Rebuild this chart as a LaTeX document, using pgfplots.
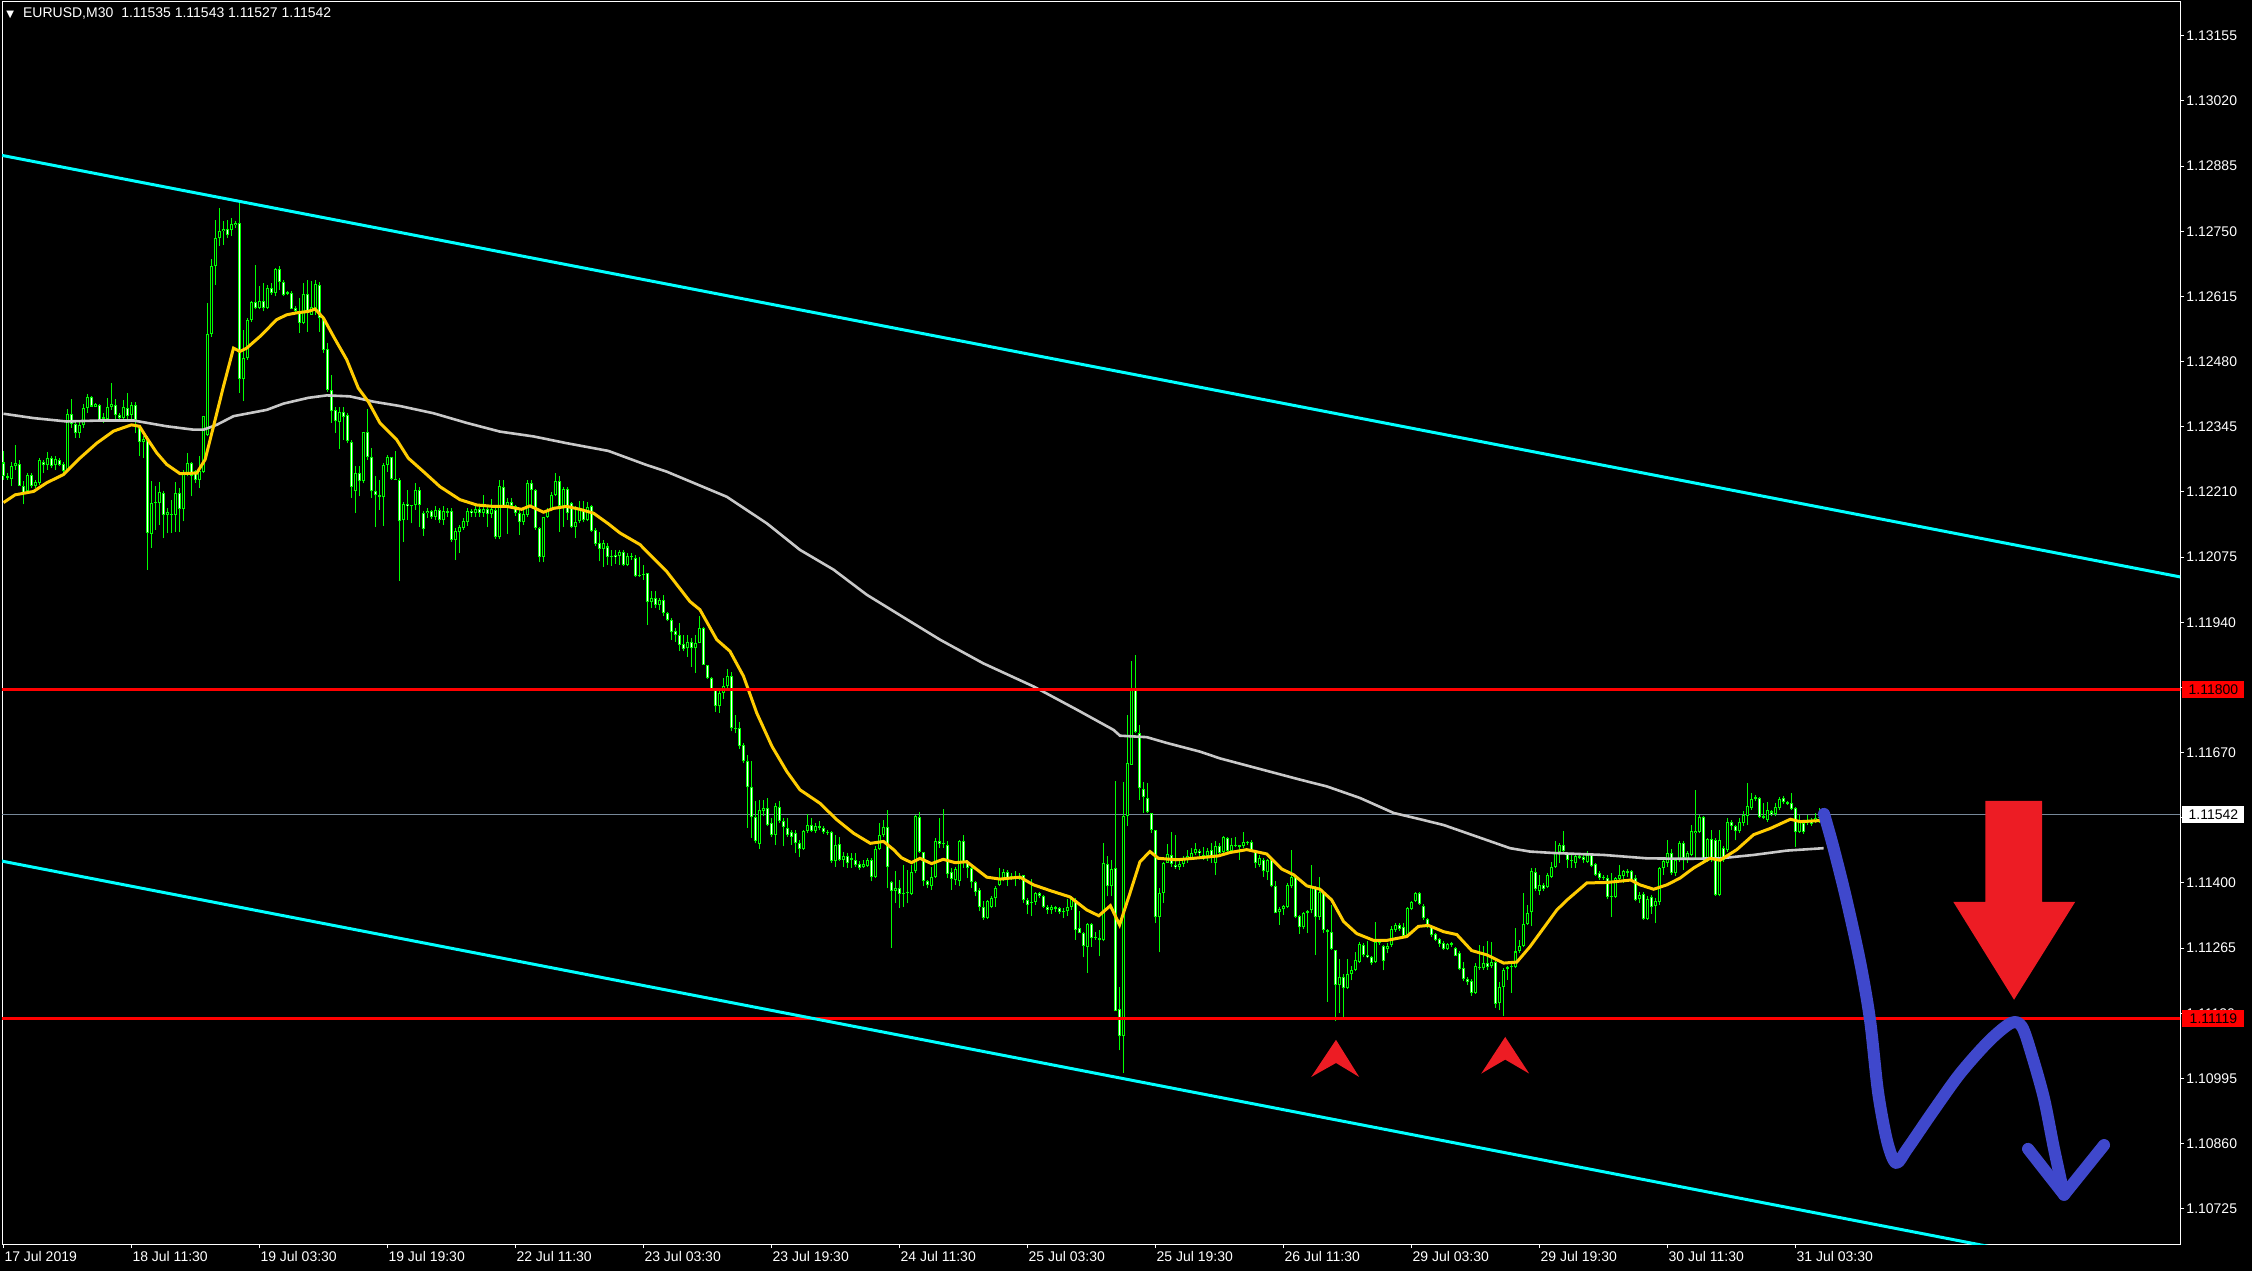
\documentclass[border=0pt]{standalone}
\usepackage{fontspec}
\setmainfont{Liberation Sans}
\newfontfamily\dejavu{DejaVu Sans}
\usepackage{pgfplots}
\pgfplotsset{compat=1.18}
\usepackage{pgfplotstable}
\definecolor{cgreen}{RGB}{0,255,0}
\definecolor{cyel}{RGB}{255,204,0}
\definecolor{cgray}{RGB}{200,200,200}
\definecolor{ccyan}{RGB}{0,255,255}
\definecolor{cline}{RGB}{119,136,153}
\definecolor{pred}{RGB}{237,28,36}
\definecolor{pblue}{RGB}{63,72,204}
% prices in points: value = (price - 1.1) * 100000
\pgfplotstableread{
o h l c
2271 2294 2235 2242
2242 2249 2235 2238
2237 2273 2222 2264
2263 2308 2256 2270
2268 2277 2222 2223
2222 2232 2184 2208
2211 2249 2208 2246
2246 2249 2218 2222
2222 2235 2218 2231
2229 2280 2225 2277
2273 2277 2249 2265
2265 2292 2256 2280
2280 2285 2260 2264
2265 2285 2256 2278
2277 2280 2263 2265
2268 2273 2249 2254
2256 2382 2255 2371
2371 2403 2343 2351
2351 2356 2322 2332
2332 2356 2322 2348
2348 2393 2343 2384
2384 2412 2374 2407
2407 2409 2386 2387
2387 2394 2386 2392
2390 2393 2360 2360
2361 2374 2353 2365
2361 2405 2360 2387
2387 2436 2380 2392
2390 2403 2360 2369
2369 2374 2360 2363
2363 2401 2360 2385
2383 2415 2360 2367
2369 2397 2360 2390
2390 2397 2332 2360
2346 2349 2284 2313
2313 2325 2280 2320
2320 2325 2049 2125
2123 2232 2094 2187
2187 2222 2132 2190
2187 2230 2142 2210
2208 2211 2115 2163
2163 2177 2125 2168
2164 2194 2125 2162
2163 2230 2128 2208
2208 2218 2126 2175
2175 2256 2149 2249
2249 2291 2242 2270
2270 2273 2201 2244
2253 2256 2229 2235
2235 2284 2218 2253
2251 2367 2249 2367
2327 2601 2325 2537
2537 2693 2532 2679
2679 2773 2639 2737
2736 2798 2719 2750
2750 2771 2722 2755
2755 2774 2736 2743
2753 2778 2740 2766
2762 2771 2757 2767
2767 2809 2415 2444
2444 2546 2398 2487
2487 2570 2484 2566
2566 2605 2563 2604
2604 2681 2588 2591
2591 2636 2588 2605
2605 2643 2584 2591
2591 2639 2589 2633
2633 2643 2619 2622
2622 2674 2615 2671
2671 2679 2629 2645
2645 2650 2615 2619
2620 2626 2617 2624
2622 2626 2588 2588
2591 2595 2581 2584
2584 2612 2539 2560
2560 2642 2557 2620
2620 2650 2542 2584
2577 2646 2577 2593
2587 2650 2577 2641
2639 2645 2542 2570
2568 2570 2498 2504
2506 2518 2418 2422
2422 2453 2353 2377
2380 2387 2333 2356
2354 2385 2299 2375
2375 2385 2318 2366
2370 2373 2311 2316
2313 2318 2197 2221
2211 2263 2166 2249
2249 2263 2201 2232
2232 2335 2228 2334
2334 2382 2277 2283
2282 2301 2197 2211
2211 2243 2137 2203
2203 2235 2173 2199
2199 2270 2140 2266
2266 2286 2252 2282
2282 2283 2235 2237
2237 2294 2235 2235
2235 2239 2026 2149
2152 2190 2107 2185
2185 2214 2152 2180
2180 2183 2145 2181
2182 2228 2173 2214
2214 2221 2137 2183
2166 2170 2119 2133
2166 2176 2156 2171
2171 2173 2154 2158
2159 2180 2152 2173
2173 2176 2145 2151
2151 2180 2142 2171
2170 2176 2159 2167
2171 2176 2107 2110
2110 2135 2069 2130
2126 2142 2083 2138
2136 2156 2132 2149
2147 2176 2140 2171
2171 2174 2159 2166
2166 2181 2159 2175
2175 2183 2159 2167
2167 2203 2159 2175
2175 2180 2137 2165
2165 2195 2156 2175
2173 2180 2112 2116
2116 2235 2112 2223
2221 2235 2180 2180
2180 2197 2123 2189
2190 2197 2174 2181
2181 2183 2161 2166
2167 2176 2121 2147
2147 2173 2142 2164
2163 2235 2159 2228
2228 2235 2176 2213
2214 2216 2132 2135
2135 2138 2064 2076
2076 2159 2064 2158
2159 2176 2156 2173
2173 2209 2170 2204
2204 2249 2201 2232
2232 2242 2128 2180
2180 2221 2138 2216
2216 2220 2152 2166
2188 2190 2135 2137
2137 2180 2114 2147
2149 2192 2145 2176
2174 2192 2147 2151
2151 2190 2149 2178
2180 2183 2128 2130
2132 2135 2097 2103
2104 2126 2066 2092
2092 2111 2055 2104
2097 2104 2059 2076
2076 2090 2057 2078
2080 2090 2061 2075
2078 2090 2059 2085
2085 2090 2057 2059
2058 2083 2056 2078
2078 2083 2069 2075
2073 2080 2034 2035
2035 2075 2034 2038
2040 2059 2028 2038
2042 2043 1935 1982
1982 2004 1969 1991
1991 2004 1969 1976
1976 1990 1966 1987
1987 1997 1952 1959
1959 1962 1942 1944
1945 1949 1904 1919
1921 1928 1900 1914
1914 1938 1880 1893
1895 1914 1880 1885
1886 1914 1869 1899
1899 1907 1848 1886
1886 1914 1835 1897
1897 1954 1897 1928
1928 1931 1852 1852
1851 1852 1823 1824
1824 1826 1797 1800
1800 1804 1755 1766
1766 1797 1752 1793
1793 1824 1781 1807
1807 1843 1804 1828
1828 1838 1714 1721
1721 1748 1710 1719
1721 1733 1677 1683
1686 1690 1648 1652
1652 1665 1514 1598
1598 1652 1493 1536
1536 1569 1482 1486
1481 1572 1470 1552
1548 1572 1538 1555
1555 1576 1517 1520
1524 1534 1496 1500
1500 1565 1479 1560
1557 1570 1524 1529
1529 1534 1476 1516
1514 1534 1496 1500
1505 1510 1479 1496
1503 1510 1462 1482
1482 1489 1453 1471
1470 1510 1469 1508
1508 1543 1503 1520
1520 1534 1505 1508
1508 1524 1503 1518
1518 1529 1509 1514
1514 1517 1502 1505
1505 1510 1500 1503
1505 1507 1442 1445
1445 1500 1434 1479
1481 1496 1445 1448
1448 1465 1433 1455
1455 1462 1431 1442
1447 1462 1431 1451
1448 1462 1434 1438
1440 1445 1427 1431
1432 1448 1431 1439
1436 1451 1434 1448
1448 1451 1403 1412
1412 1476 1410 1471
1471 1524 1469 1500
1500 1531 1496 1516
1516 1552 1389 1434
1401 1403 1265 1384
1384 1424 1358 1389
1389 1406 1348 1378
1378 1438 1351 1380
1380 1427 1358 1382
1377 1437 1375 1422
1424 1541 1420 1538
1536 1547 1462 1464
1464 1465 1393 1405
1405 1406 1389 1395
1393 1434 1386 1413
1412 1493 1410 1486
1486 1534 1472 1481
1481 1553 1472 1483
1478 1486 1410 1418
1422 1431 1386 1409
1406 1432 1396 1429
1403 1489 1393 1487
1487 1500 1431 1441
1444 1448 1410 1431
1431 1434 1389 1401
1401 1403 1372 1382
1386 1389 1341 1351
1351 1362 1324 1327
1327 1365 1325 1362
1351 1373 1348 1368
1368 1394 1351 1389
1396 1431 1393 1408
1406 1429 1403 1422
1422 1427 1393 1408
1411 1420 1406 1414
1414 1424 1393 1412
1411 1420 1406 1414
1417 1417 1358 1364
1364 1368 1336 1355
1358 1408 1331 1360
1360 1382 1355 1379
1379 1382 1368 1372
1373 1375 1348 1351
1351 1355 1336 1343
1343 1355 1336 1351
1350 1353 1339 1346
1348 1351 1336 1339
1339 1348 1327 1341
1341 1366 1331 1351
1351 1372 1344 1366
1365 1368 1282 1303
1306 1341 1296 1297
1297 1299 1246 1270
1267 1317 1214 1315
1315 1318 1268 1286
1286 1299 1282 1289
1285 1303 1248 1281
1281 1482 1279 1441
1439 1456 1372 1393
1393 1448 1372 1429
1431 1612 1134 1134
1138 1185 1053 1082
1082 1610 1006 1539
1539 1748 1518 1648
1645 1859 1645 1800
1800 1873 1710 1712
1710 1728 1572 1596
1594 1610 1545 1578
1576 1607 1545 1546
1545 1545 1503 1510
1510 1510 1317 1329
1329 1389 1256 1379
1380 1444 1358 1442
1442 1481 1441 1460
1458 1505 1434 1439
1437 1500 1429 1432
1433 1449 1427 1440
1440 1455 1434 1451
1448 1469 1442 1455
1451 1472 1448 1462
1462 1482 1458 1470
1467 1470 1456 1462
1458 1475 1448 1455
1455 1472 1445 1467
1469 1482 1441 1451
1442 1486 1417 1477
1477 1482 1455 1462
1465 1498 1458 1495
1493 1495 1465 1467
1467 1493 1465 1479
1479 1495 1474 1477
1474 1479 1448 1478
1476 1505 1472 1484
1485 1487 1479 1482
1484 1488 1465 1467
1467 1469 1431 1441
1438 1458 1433 1451
1448 1451 1413 1424
1422 1449 1406 1447
1447 1449 1391 1393
1393 1403 1337 1337
1339 1351 1313 1346
1346 1355 1334 1353
1351 1400 1348 1396
1393 1469 1389 1412
1413 1417 1327 1329
1331 1334 1295 1308
1308 1339 1304 1338
1337 1344 1296 1341
1343 1437 1337 1393
1389 1393 1251 1329
1329 1412 1324 1382
1379 1384 1297 1303
1303 1304 1154 1299
1299 1355 1261 1263
1261 1261 1113 1189
1189 1242 1130 1206
1206 1212 1118 1182
1182 1242 1180 1211
1211 1227 1198 1220
1220 1256 1217 1241
1237 1277 1234 1274
1272 1275 1246 1251
1251 1279 1244 1246
1246 1248 1230 1234
1237 1320 1234 1277
1275 1284 1272 1279
1270 1272 1219 1239
1263 1275 1254 1270
1272 1311 1268 1304
1303 1317 1299 1313
1313 1317 1301 1305
1308 1317 1288 1290
1290 1351 1289 1348
1346 1362 1343 1360
1362 1382 1360 1379
1379 1382 1355 1357
1353 1357 1324 1327
1326 1327 1306 1310
1310 1313 1289 1293
1295 1297 1279 1282
1284 1286 1268 1274
1275 1279 1261 1263
1263 1275 1261 1273
1272 1277 1268 1275
1265 1268 1248 1249
1255 1258 1219 1221
1224 1237 1196 1201
1201 1205 1189 1194
1196 1201 1166 1173
1173 1234 1170 1228
1225 1272 1220 1223
1223 1270 1220 1235
1235 1279 1220 1226
1227 1277 1224 1237
1237 1241 1141 1150
1151 1194 1136 1184
1184 1224 1125 1220
1221 1228 1199 1225
1225 1234 1172 1227
1225 1306 1223 1258
1260 1282 1254 1270
1270 1380 1268 1315
1315 1355 1313 1337
1339 1431 1310 1424
1422 1431 1384 1387
1384 1417 1375 1396
1396 1400 1384 1388
1391 1420 1389 1417
1413 1444 1410 1433
1433 1486 1431 1463
1465 1482 1441 1479
1479 1507 1465 1467
1460 1463 1431 1447
1446 1462 1431 1448
1441 1458 1431 1456
1455 1463 1449 1451
1453 1458 1441 1447
1444 1467 1441 1458
1460 1463 1434 1435
1440 1441 1415 1417
1420 1424 1407 1410
1410 1417 1407 1413
1410 1417 1366 1371
1371 1420 1329 1373
1371 1413 1369 1410
1409 1438 1403 1417
1415 1427 1400 1424
1424 1429 1413 1420
1424 1427 1401 1403
1410 1417 1362 1365
1366 1382 1358 1375
1377 1382 1324 1325
1325 1372 1324 1366
1371 1375 1336 1350
1353 1369 1317 1362
1360 1434 1355 1431
1431 1451 1417 1446
1441 1489 1434 1462
1462 1470 1417 1420
1420 1451 1415 1448
1447 1486 1444 1482
1482 1486 1427 1451
1447 1467 1442 1463
1458 1520 1455 1507
1503 1593 1448 1508
1505 1541 1503 1536
1536 1539 1444 1447
1447 1493 1444 1491
1491 1509 1444 1448
1489 1493 1373 1375
1375 1510 1372 1489
1472 1476 1444 1448
1469 1534 1465 1527
1527 1531 1510 1517
1517 1520 1488 1507
1507 1534 1503 1527
1524 1548 1517 1541
1539 1607 1520 1560
1555 1586 1551 1574
1574 1583 1569 1578
1576 1579 1534 1536
1538 1565 1532 1534
1531 1567 1527 1552
1548 1552 1538 1543
1543 1565 1538 1557
1555 1579 1551 1574
1576 1581 1564 1567
1567 1569 1562 1563
1565 1586 1551 1553
1555 1557 1474 1505
1505 1541 1503 1531
1524 1531 1502 1505
1524 1541 1520 1531
1531 1534 1518 1522
1527 1545 1524 1534
1534 1555 1525 1535
1535 1543 1527 1542
}\candles

\begin{document}
\begin{tikzpicture}
\fill[black] (0,0) rectangle (1126pt,635.5pt);
\useasboundingbox (0,0) rectangle (1126pt,635.5pt);
\begin{axis}[
  at={(1pt,13.5pt)}, anchor=south west,
  scale only axis, width=1089pt, height=621pt,
  xmin=-0.375, xmax=544.1, ymin=652, ymax=3225,
  axis line style={white, line width=0.5pt},
  tick style={white, line width=0.5pt},
  tick align=outside, major tick length=2pt,
  xtick pos=bottom, ytick pos=right,
  yticklabel pos=right,
  xtick={0,32,...,448},
  xticklabels={17 Jul 2019,18 Jul 11:30,19 Jul 03:30,19 Jul 19:30,22 Jul 11:30,23 Jul 03:30,23 Jul 19:30,24 Jul 11:30,25 Jul 03:30,25 Jul 19:30,26 Jul 11:30,29 Jul 03:30,29 Jul 19:30,30 Jul 11:30,31 Jul 03:30},
  ytick={725,860,995,1130,1265,1400,1535,1670,1805,1940,2075,2210,2345,2480,2615,2750,2885,3020,3155},
  yticklabels={1.10725,1.10860,1.10995,1.11130,1.11265,1.11400,1.11535,1.11670,1.11805,1.11940,1.12075,1.12210,1.12345,1.12480,1.12615,1.12750,1.12885,1.13020,1.13155},
  ticklabel style={font=\fontsize{7}{8}\selectfont, text=white},
  xticklabel style={anchor=north west, inner sep=0pt, xshift=0.3pt, yshift=-1.5pt},
  yticklabel style={anchor=west, inner sep=0pt, xshift=1pt},
  clip=true,
]
% current price line
\addplot[cline, line width=0.5pt] coordinates {(-1,1542) (546,1542)};
% candles: wicks, bodies, body fills
\addplot[cgreen, line width=0.5pt, -, quiver={u=0, v=\thisrow{h}-\thisrow{l}}]
  table[x expr=\coordindex, y=l] {\candles};
\addplot[cgreen, line width=1.5pt, -, quiver={u=0, v={max(abs(\thisrow{o}-\thisrow{c}),2)}}]
  table[x expr=\coordindex, y expr={min(\thisrow{o},\thisrow{c})}] {\candles};
\addplot[white, line width=0.5pt, -, quiver={u=0, v=\thisrow{o}-\thisrow{c}-4.2},
  restrict expr to domain={\thisrow{o}-\thisrow{c}}{4.6:100000}]
  table[x expr=\coordindex, y expr={\thisrow{c}+2.1}] {\candles};
\addplot[black, line width=0.5pt, -, quiver={u=0, v=\thisrow{c}-\thisrow{o}-4.2},
  restrict expr to domain={\thisrow{c}-\thisrow{o}}{4.6:100000}]
  table[x expr=\coordindex, y expr={\thisrow{o}+2.1}] {\candles};
% slow moving average
\addplot[cgray, line width=1.3pt] coordinates {
(0,2372) (7.5,2363) (15.8,2356) (24.1,2358) (32.5,2358) (40.8,2346) (47.5,2339) (50,2339)
(53.3,2349) (57.5,2367) (65.8,2380) (70,2393) (76.2,2405) (80.8,2410) (86.6,2408) (92.5,2397)
(99.1,2388) (107.5,2373) (115.8,2353) (124.1,2335) (132.5,2325) (140.8,2311) (151.2,2295)
(160.7,2266) (165.8,2252) (180.8,2200) (190.8,2145) (199.1,2090) (207.5,2049) (215.8,1997)
(226.6,1942) (234.1,1904) (244.9,1855) (257.5,1807) (268.3,1759) (277.5,1717) (279.1,1705)
(285.8,1702) (290.8,1690) (299.1,1672) (304.1,1658) (324.1,1614) (330.8,1600) (339.1,1576)
(347.5,1545) (354.1,1532) (360,1520) (368.3,1496) (376.6,1472) (381.6,1465) (387.5,1462)
(400,1458) (410.8,1451) (420.8,1450) (429.1,1451) (437.5,1458) (445.8,1467) (455,1472)};
% fast moving average
\addplot[cyel, line width=1.5pt] coordinates {
(0,2188) (2.9,2204) (7.5,2211) (10.8,2229) (15,2246) (19.1,2280) (23.3,2311) (27.5,2336)
(32,2349) (34,2346) (35.8,2322) (38.3,2291) (40.8,2267) (44.1,2248) (48.3,2249) (50.4,2277)
(52.5,2346) (55,2429) (57.5,2508) (59.1,2501) (60.8,2508) (64.1,2532) (68.3,2567) (70.8,2577)
(73.3,2581) (76.2,2584) (77.9,2589) (80,2570) (82.5,2532) (85.8,2484) (88.7,2425) (91.2,2397)
(94.1,2353) (98.3,2318) (101.2,2280) (105,2252) (109.1,2221) (114.1,2194) (118.3,2183)
(122.5,2180) (125.8,2180) (129.5,2174) (131.6,2181) (135,2168) (137.5,2176) (140.8,2180)
(144.1,2174) (147.5,2166) (151.2,2144) (154.1,2125) (159.1,2101) (165.8,2045) (171.6,1983)
(174.1,1966) (178.3,1904) (181.6,1880) (185,1828) (188.3,1752) (192.1,1683) (195.8,1631)
(199.1,1593) (204.1,1565) (208.3,1531) (212.5,1503) (216.7,1482) (220,1486) (222.5,1469)
(224.5,1452) (227,1442) (229.1,1451) (232,1440) (234.9,1449) (237.9,1442) (240.8,1444)
(245.8,1412) (249.1,1408) (254.1,1412) (257.5,1396) (261.7,1384) (266.6,1371) (270.8,1344)
(273.8,1332) (276.7,1353) (279,1313) (281.6,1379) (284.1,1444) (286.6,1465) (288.7,1451)
(293.3,1448) (297.5,1451) (303.7,1456) (306.6,1463) (310.8,1469) (315.8,1460) (319.5,1429)
(322.5,1417) (325.8,1394) (329.1,1387) (332,1365) (335,1320) (338.3,1295) (342.5,1281)
(345.8,1281) (350.8,1289) (353.7,1310) (356.2,1312) (360,1299) (363.3,1293) (367,1260)
(370.8,1251) (375,1234) (378.3,1236) (381.6,1268) (388.3,1344) (390.9,1365) (395.8,1400)
(400.9,1401) (406.8,1406) (409.1,1396) (412.5,1387) (415.8,1396) (419.1,1410) (422.5,1431)
(426.6,1451) (429.1,1447) (433.3,1469) (437.5,1500) (441.7,1513) (446.7,1532) (449.1,1527)
(453.7,1529) (455,1530)};
% horizontal levels
\addplot[red, line width=1.5pt] coordinates {(-1,1800) (546,1800)};
\addplot[red, line width=1.5pt] coordinates {(-1,1119) (546,1119)};
% channel
\addplot[ccyan, line width=1.5pt] coordinates {(-0.875,2908) (544.1,2034)};
\addplot[ccyan, line width=1.5pt] coordinates {(-0.875,1446) (544.1,570)};
% hand drawn marks
\addplot[fill=pred, draw=none] coordinates {(333.1,1075) (338.9,998) (333.1,1027) (326.9,998)};
\addplot[fill=pred, draw=none] coordinates {(375.4,1081) (381.4,1005) (375.4,1034) (369.4,1005)};
\addplot[fill=pred, draw=none] coordinates {(495.4,1570) (509.6,1570) (509.6,1361) (517.9,1361) (502.6,1158) (487.4,1361) (495.4,1361)};
\addplot[pblue, line width=6pt, line cap=round, line join=round, smooth, tension=0.5] coordinates {
(455.1,1543) (457.4,1475) (460.6,1369) (464.1,1237) (466.6,1116) (468.6,967) (470.9,864)
(473.1,820) (475.9,849) (482.1,924) (489.1,1005) (496.4,1073) (501.9,1110) (504.6,1102)
(507.1,1042) (510.1,953) (512.6,849) (515.1,754)};
\addplot[pblue, line width=6pt, line cap=round, line join=round] coordinates {(506.1,849) (515.1,754) (525.1,857)};
\coordinate (tl) at (rel axis cs:0,1);
\coordinate (r1) at (axis cs:544.1,1800);
\coordinate (r2) at (axis cs:544.1,1119);
\coordinate (r3) at (axis cs:544.1,1542);
\end{axis}
\node[anchor=base west, inner sep=0pt, text=white, font=\fontsize{7}{8}\selectfont] at ([xshift=2pt,yshift=-8pt]tl)
  {{\dejavu\fontsize{5}{6}\selectfont ▼}\hspace{4.5pt}EURUSD,M30\hspace{4pt}1.11535 1.11543 1.11527 1.11542};
\node[fill=red, anchor=west, inner sep=0pt, minimum width=31pt, minimum height=8.5pt, text=black, font=\fontsize{7}{8}\selectfont] at ([xshift=1pt]r1) {1.11800};
\node[fill=red, anchor=west, inner sep=0pt, minimum width=31pt, minimum height=8.5pt, text=black, font=\fontsize{7}{8}\selectfont] at ([xshift=1pt]r2) {1.11119};
\node[fill=white, anchor=west, inner sep=0pt, minimum width=31pt, minimum height=8.5pt, text=black, font=\fontsize{7}{8}\selectfont] at ([xshift=1pt]r3) {1.11542};
\end{tikzpicture}
\end{document}
